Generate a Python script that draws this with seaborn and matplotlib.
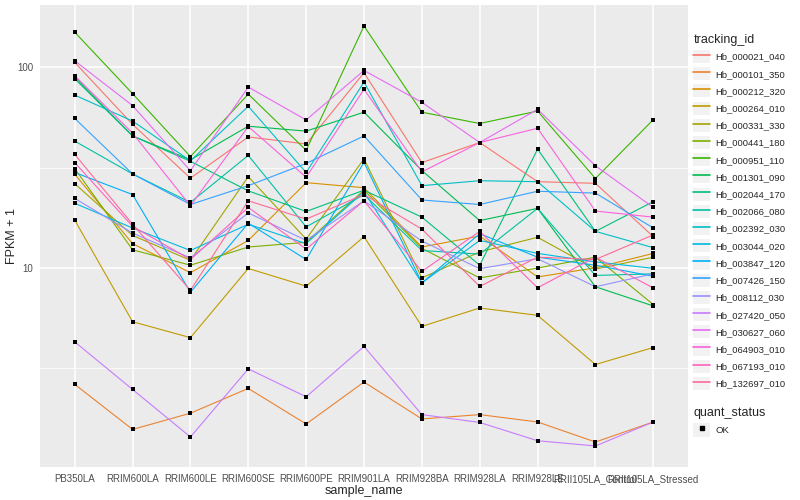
import pandas as pd
import seaborn as sns
import matplotlib.pyplot as plt
from matplotlib.lines import Line2D
from matplotlib.patches import Patch

# samples on the x axis
samples = ["PB350LA", "RRIM600LA", "RRIM600LE", "RRIM600SE", "RRIM600PE",
           "RRIM901LA", "RRIM928BA", "RRIM928LA", "RRIM928LE",
           "RRII105LA_Control", "RRII105LA_Stressed"]

# FPKM + 1 per gene
hb_000021_040 = [106, 52, 28.0, 45.0, 41.5, 94.1, 33.5, 42.2, 26.9, 26.4, 14.3]
hb_000101_350 = [2.62, 1.56, 1.88, 2.5, 1.66, 2.69, 1.76, 1.85, 1.70, 1.35, 1.70]
hb_000212_320 = [29.3, 13.2, 9.45, 13.7, 26.6, 25.1, 12.7, 14.4, 9.0, 10.0, 11.8]
hb_000264_010 = [17.3, 5.38, 4.48, 9.92, 8.1, 14.3, 5.1, 6.3, 5.79, 3.29, 4.0]
hb_000331_330 = [26.3, 14.5, 10.9, 28.5, 13.9, 35.0, 8.9, 12.0, 14.2, 9.85, 11.3]
hb_000441_180 = [31.3, 12.3, 10.3, 12.7, 13.4, 24.4, 12.5, 8.9, 9.97, 11.3, 6.55]
hb_000951_110 = [150, 74, 35.9, 73.6, 38.6, 161, 59.8, 52.5, 60.6, 27.9, 54.9]
hb_001301_090 = [89.5, 45.5, 34.6, 50.9, 48.1, 59.8, 30.6, 17.2, 19.8, 8.04, 6.45]
hb_002044_170 = [87.9, 45.5, 34.0, 24.2, 19.1, 24.4, 17.9, 10.3, 39.1, 15.2, 21.4]
hb_002066_080 = [42.9, 29.4, 21.2, 36.4, 16.0, 23.2, 12.2, 11.7, 19.8, 9.16, 9.33]
hb_002392_030 = [72.8, 54, 34.2, 64.0, 29.9, 84.5, 25.7, 27.2, 26.9, 15.2, 12.6]
hb_003044_020 = [21.0, 15.8, 12.2, 16.5, 13.2, 24.0, 8.4, 13.7, 11.8, 10.7, 9.94]
hb_003847_120 = [29.9, 23.2, 7.55, 16.7, 11.0, 33.6, 8.4, 14.8, 11.3, 10.3, 9.07]
hb_007426_150 = [55.7, 29.4, 20.7, 25.7, 33.2, 45.5, 21.8, 20.7, 24.1, 23.6, 15.8]
hb_008112_030 = [22.2, 14.9, 11.2, 18.8, 13.7, 21.6, 13.6, 9.9, 11.1, 8.04, 9.33]
hb_027420_050 = [4.27, 2.47, 1.43, 3.13, 2.27, 4.05, 1.85, 1.69, 1.37, 1.29, 1.70]
hb_030627_060 = [108, 64.5, 30.5, 79.8, 54.7, 96.6, 67, 42.2, 61.8, 32.3, 20.0]
hb_064903_010 = [91, 47, 20.4, 50.7, 28.3, 77.8, 30.1, 42.2, 49.7, 19.2, 17.9]
hb_067193_010 = [33.5, 16.1, 11.0, 20.0, 12.4, 21.6, 9.6, 15.2, 7.95, 11.3, 7.93]
hb_132697_010 = [36.8, 16.5, 7.71, 21.6, 17.5, 23.2, 15.6, 8.07, 11.3, 11.0, 14.6]

genes = {
    "Hb_000021_040": hb_000021_040, "Hb_000101_350": hb_000101_350,
    "Hb_000212_320": hb_000212_320, "Hb_000264_010": hb_000264_010,
    "Hb_000331_330": hb_000331_330, "Hb_000441_180": hb_000441_180,
    "Hb_000951_110": hb_000951_110, "Hb_001301_090": hb_001301_090,
    "Hb_002044_170": hb_002044_170, "Hb_002066_080": hb_002066_080,
    "Hb_002392_030": hb_002392_030, "Hb_003044_020": hb_003044_020,
    "Hb_003847_120": hb_003847_120, "Hb_007426_150": hb_007426_150,
    "Hb_008112_030": hb_008112_030, "Hb_027420_050": hb_027420_050,
    "Hb_030627_060": hb_030627_060, "Hb_064903_010": hb_064903_010,
    "Hb_067193_010": hb_067193_010, "Hb_132697_010": hb_132697_010,
}

# ggplot default hue palette, 20 levels
colors = ["#F8766D", "#EA8331", "#D89000", "#C09B00", "#A3A500", "#7CAE00",
          "#39B600", "#00BB4E", "#00BF7D", "#00C1A3", "#00BFC4", "#00BAE0",
          "#00B0F6", "#35A2FF", "#9590FF", "#C77CFF", "#E76BF3", "#FA62DB",
          "#FF62BC", "#FF6A98"]

rows = []
for gid, vals in genes.items():
    for s, v in zip(samples, vals):
        rows.append({"tracking_id": gid, "sample_name": s, "fpkm": v,
                     "quant_status": "OK"})
df = pd.DataFrame(rows)
df["x"] = df["sample_name"].map({s: i for i, s in enumerate(samples)})

sns.set_style("darkgrid", {"axes.facecolor": "#EBEBEB", "grid.color": "white"})
plt.rcParams['font.family'] = ['Liberation Sans', 'DejaVu Sans']

fig = plt.figure(figsize=(8, 5), dpi=100)
ax = fig.add_axes([0.05, 0.066, 0.81, 0.924])

pal = dict(zip(genes.keys(), colors))
sns.lineplot(data=df, x="x", y="fpkm", hue="tracking_id", palette=pal,
             units="tracking_id", estimator=None, sort=False, linewidth=0.8,
             legend=False, ax=ax)
sns.scatterplot(data=df, x="x", y="fpkm", color="black", marker="s", s=9,
                linewidth=0, legend=False, ax=ax, zorder=5)

ax.set_yscale("log")
ax.set_ylim(1.013, 205)
ax.set_xlim(-0.6, 10.6)
ax.set_xticks(range(len(samples)))
ax.set_xticklabels(samples)
ax.set_yticks([10, 100])
ax.set_yticklabels(["10", "100"])
ax.set_yticks([3.1623, 31.623], minor=True)
ax.yaxis.set_minor_formatter(plt.NullFormatter())
ax.grid(True, which="major", color="white", linewidth=1.1)
ax.grid(True, which="minor", axis="y", color="white", linewidth=0.55)
ax.tick_params(axis="both", which="major", length=3, width=0.8, color="#333333",
               labelsize=7, labelcolor="#4D4D4D", pad=2)
ax.tick_params(axis="y", which="minor", length=0)
for sp in ax.spines.values():
    sp.set_visible(False)
ax.set_xlabel("sample_name", fontsize=9, labelpad=1)
ax.set_ylabel("FPKM + 1", fontsize=9)
ax.yaxis.set_label_coords(-0.034, 0.5)

# legends, ggplot style
handles = [(Patch(facecolor="#F2F2F2", edgecolor="none"),
            Line2D([], [], color=c, linewidth=1.2)) for c in colors]
leg1 = fig.legend(handles, list(genes.keys()), loc="upper left",
                  bbox_to_anchor=(0.862, 0.94), title="tracking_id",
                  frameon=False, fontsize=6.8, title_fontsize=9,
                  alignment="left", handlelength=1.8, handleheight=1.75,
                  labelspacing=0.44, handletextpad=0.5, borderaxespad=0)
ok_handle = (Patch(facecolor="#F2F2F2", edgecolor="none"),
             Line2D([], [], color="black", marker="s", markersize=3,
                    linestyle="none"))
leg2 = fig.legend([ok_handle], ["OK"], loc="upper left",
                  bbox_to_anchor=(0.862, 0.194), title="quant_status",
                  frameon=False, fontsize=6.8, title_fontsize=9,
                  alignment="left", handlelength=1.8, handleheight=1.75,
                  handletextpad=0.5, borderaxespad=0)

fig.savefig("out.png", dpi=100)
